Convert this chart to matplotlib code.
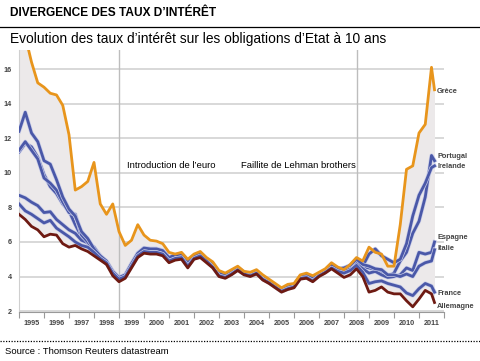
import numpy as np
import matplotlib.pyplot as plt
import matplotlib.patheffects as pe

# trimestriel, 1995 -> mi-2011
years = np.append(np.arange(1995, 2011.51, 0.25), 2011.62)

grece = [18.6, 17.9, 16.4, 15.2, 14.95, 14.6, 14.5, 13.9, 12.2, 9.0, 9.2, 9.5, 10.6, 8.2, 7.6, 8.2,
         6.6, 5.8, 6.1, 7.0, 6.4, 6.1, 6.05, 5.9, 5.4, 5.3, 5.4, 5.0, 5.3, 5.45, 5.1, 4.85,
         4.35, 4.2, 4.4, 4.6, 4.3, 4.25, 4.4, 4.1, 3.85, 3.6, 3.35, 3.55, 3.6, 4.1, 4.2, 4.05,
         4.25, 4.45, 4.8, 4.55, 4.4, 4.7, 5.1, 4.9, 5.7, 5.4, 5.3, 4.6, 4.6, 7.0, 10.2, 10.4,
         12.3, 12.8, 16.1, 14.8]
portugal = [11.2, 11.7, 11.5, 10.9, 9.9, 9.2, 8.8, 8.2, 7.8, 7.0, 6.3, 5.9, 5.5, 5.2, 4.75, 4.25,
            3.95, 4.1, 4.75, 5.35, 5.65, 5.6, 5.6, 5.5, 5.1, 5.25, 5.3, 4.8, 5.2, 5.3, 5.0, 4.65,
            4.15, 4.05, 4.25, 4.5, 4.25, 4.1, 4.3, 3.95, 3.7, 3.45, 3.2, 3.35, 3.45, 3.95, 4.05, 3.85,
            4.1, 4.3, 4.6, 4.4, 4.45, 4.6, 4.9, 4.55, 4.5, 4.4, 4.2, 4.0, 4.2, 4.9, 5.4, 6.5,
            7.2, 8.6, 11.0, 10.7]
irlande = [8.7, 8.55, 8.3, 8.1, 7.7, 7.75, 7.3, 7.0, 6.7, 6.5, 6.1, 5.95, 5.7, 5.2, 4.85, 4.3,
           3.9, 4.0, 4.65, 5.25, 5.55, 5.5, 5.5, 5.4, 5.0, 5.15, 5.2, 4.7, 5.15, 5.25, 4.95, 4.6,
           4.1, 4.0, 4.2, 4.45, 4.2, 4.1, 4.25, 3.9, 3.7, 3.4, 3.15, 3.3, 3.45, 3.95, 4.0, 3.8,
           4.1, 4.3, 4.55, 4.35, 4.4, 4.6, 4.8, 4.6, 5.3, 5.6, 5.2, 5.0, 4.8, 5.0, 5.9, 7.5,
           8.7, 9.4, 10.3, 10.4]
espagne = [11.3, 11.8, 11.3, 10.8, 9.7, 9.4, 9.0, 8.3, 7.7, 7.6, 6.4, 6.0, 5.5, 5.2, 4.8, 4.3,
           3.9, 4.05, 4.7, 5.3, 5.6, 5.55, 5.55, 5.45, 5.05, 5.2, 5.25, 4.75, 5.15, 5.3, 4.95, 4.65,
           4.15, 4.0, 4.25, 4.45, 4.2, 4.1, 4.25, 3.9, 3.7, 3.45, 3.2, 3.35, 3.45, 3.95, 4.05, 3.85,
           4.1, 4.3, 4.6, 4.4, 4.35, 4.5, 4.85, 4.45, 4.2, 4.3, 4.1, 3.95, 4.0, 4.1, 4.5, 4.35,
           5.4, 5.3, 5.4, 6.0]
italie = [12.4, 13.5, 12.3, 11.8, 10.7, 10.5, 9.6, 8.6, 7.9, 7.5, 6.6, 6.2, 5.6, 5.2, 4.9, 4.3,
          3.95, 4.1, 4.75, 5.35, 5.65, 5.6, 5.6, 5.5, 5.1, 5.25, 5.3, 4.8, 5.2, 5.35, 5.0, 4.7,
          4.2, 4.05, 4.3, 4.5, 4.25, 4.15, 4.3, 3.95, 3.75, 3.5, 3.25, 3.4, 3.5, 4.0, 4.1, 3.9,
          4.15, 4.35, 4.65, 4.45, 4.5, 4.65, 5.0, 4.7, 4.6, 4.45, 4.4, 4.1, 4.1, 4.0, 4.15, 4.0,
          4.6, 4.8, 4.9, 5.55]
france = [8.2, 7.8, 7.6, 7.35, 7.1, 7.25, 6.8, 6.55, 6.3, 6.0, 5.8, 5.7, 5.4, 5.05, 4.8, 4.2,
          3.85, 4.0, 4.6, 5.2, 5.45, 5.4, 5.4, 5.3, 4.9, 5.05, 5.1, 4.6, 5.05, 5.2, 4.9, 4.55,
          4.05, 3.95, 4.15, 4.4, 4.15, 4.05, 4.2, 3.85, 3.65, 3.4, 3.15, 3.3, 3.4, 3.9, 3.95, 3.75,
          4.05, 4.25, 4.5, 4.3, 4.2, 4.35, 4.65, 4.25, 3.6, 3.7, 3.75, 3.6, 3.5, 3.4, 3.05, 2.9,
          3.3, 3.6, 3.45, 3.1]
allemagne = [7.6, 7.3, 6.9, 6.7, 6.3, 6.45, 6.4, 5.9, 5.7, 5.8, 5.6, 5.45, 5.2, 4.95, 4.7, 4.05,
             3.7, 3.9, 4.5, 5.1, 5.35, 5.3, 5.3, 5.2, 4.8, 4.95, 5.0, 4.5, 5.0, 5.1, 4.8, 4.5,
             4.0, 3.9, 4.1, 4.35, 4.1, 4.0, 4.15, 3.8, 3.6, 3.35, 3.1, 3.25, 3.35, 3.85, 3.9, 3.7,
             4.0, 4.2, 4.45, 4.2, 3.95, 4.1, 4.45, 4.0, 3.1, 3.2, 3.4, 3.1, 3.0, 3.0, 2.6, 2.25,
             2.7, 3.2, 3.0, 2.5]

labels = ['Grèce', 'Portugal', 'Irelande', 'Espagne', 'Italie', 'France', 'Allemagne']
label_y = [14.7, 10.93, 10.35, 6.23, 5.65, 3.04, 2.29]
events = [1999.0, 2008.5]

orange = '#e8951c'
bleu = '#4a58a8'
rouge = '#6e1a12'

fig = plt.figure(figsize=(4.8, 3.61), dpi=100)
ax = fig.add_axes([0.0396, 0.1357, 0.8854, 0.7258])

series = [grece, portugal, irlande, espagne, italie, france, allemagne]
arr = np.array(series)
ax.fill_between(years, arr.min(axis=0), arr.max(axis=0), color='#ece9ea', lw=0, zorder=1)

for y in range(2, 18, 2):
    ax.axhline(y, color='#d2d2d2', lw=1.2, zorder=0)
for e in events:
    ax.axvline(e, color='#bdbdbd', lw=1, zorder=2)

halo = [pe.Stroke(linewidth=3.0, foreground='#c9cde8'), pe.Normal()]
for s in [portugal, irlande, espagne, italie, france]:
    ax.plot(years, s, color=bleu, lw=2.0, zorder=3, path_effects=halo)
ax.plot(years, allemagne, color=rouge, lw=2.0, zorder=4)
ax.plot(years, grece, color=orange, lw=2.0, zorder=5)

for lab, ly in zip(labels, label_y):
    ax.text(2011.72, ly, lab, fontsize=5.3, fontweight='bold', color='#444444',
            family='Liberation Sans', va='center', ha='left', clip_on=False)

ax.text(1999.32, 10.45, "Introduction de l\u2019euro", fontsize=6.8, family='Liberation Sans',
        va='center', ha='left')
ax.text(2008.47, 10.45, "Faillite de Lehman brothers", fontsize=6.8, family='Liberation Sans',
        va='center', ha='right')

ax.set_xlim(1995, 2012)
ax.set_ylim(1.95, 17.1)
ax.set_xticks(np.arange(1995, 2013, 1))
ax.set_xticklabels([])
ax.set_xticks(np.arange(1995.5, 2012, 1), minor=True)
ax.set_xticklabels([str(y) for y in range(1995, 2012)], minor=True)
ax.tick_params(axis='x', which='major', length=4, color='#999999', direction='out')
ax.tick_params(axis='x', which='minor', length=0, pad=6, labelsize=5.2, labelcolor='#444444')
ax.set_yticks(range(2, 18, 2))
ax.tick_params(axis='y', length=0, pad=5, labelsize=5.2, labelcolor='#444444')
for t in ax.get_xticklabels(minor=True) + ax.get_yticklabels():
    t.set_fontweight('bold')
    t.set_family('Liberation Sans')

for sp in ['top', 'right']:
    ax.spines[sp].set_visible(False)
ax.spines['left'].set_color('#cfcfcf')
ax.spines['bottom'].set_color('#999999')

fig.text(0.021, 0.963, "DIVERGENCE DES TAUX D\u2019INT\u00c9R\u00caT", fontsize=8.6, fontweight='bold',
         family='Liberation Sans', va='center', ha='left')
fig.add_artist(plt.Line2D([0, 1], [0.925, 0.925], color='black', lw=0.9))
fig.text(0.021, 0.893, "Evolution des taux d\u2019int\u00e9r\u00eat sur les obligations d\u2019Etat \u00e0 10 ans",
         fontsize=9.9, family='Liberation Sans', va='center', ha='left')
fig.add_artist(plt.Line2D([0, 1], [0.056, 0.056], color='black', lw=0.9, linestyle=(0, (1, 1.2))))
fig.text(0.011, 0.025, "Source : Thomson Reuters datastream", fontsize=6.8,
         family='Liberation Sans', va='center', ha='left')

fig.savefig('out.png', dpi=100)
